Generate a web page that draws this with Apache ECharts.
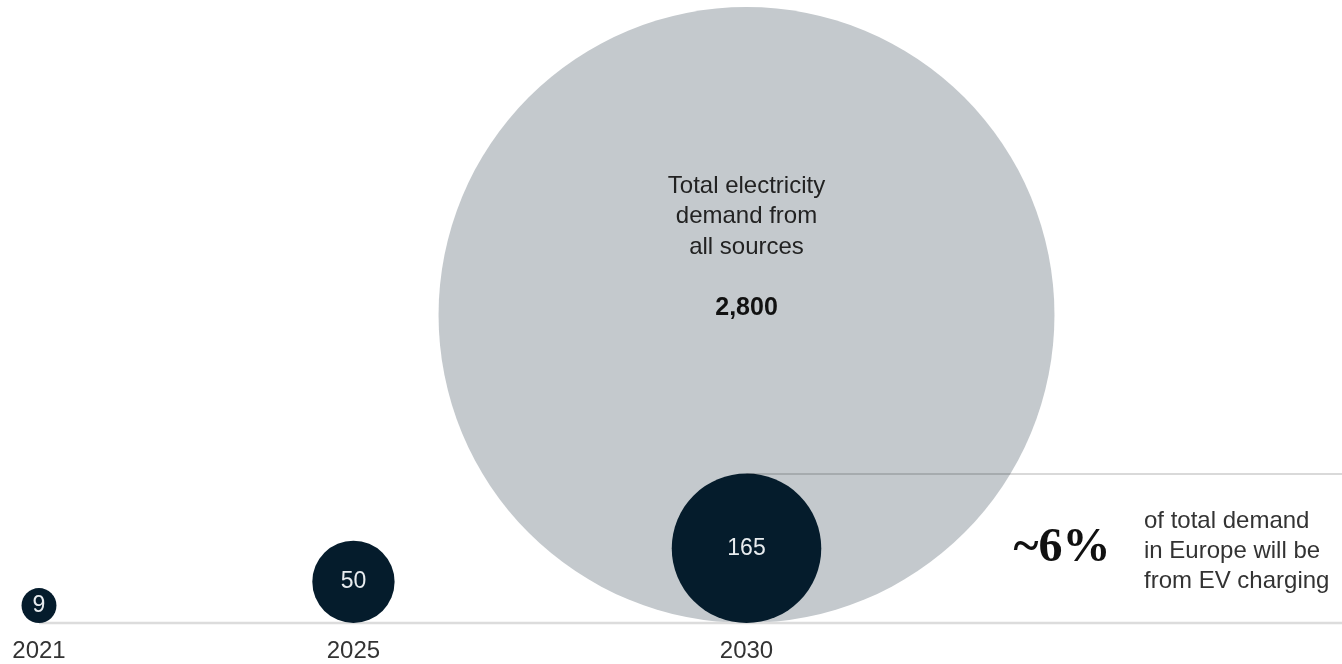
<!DOCTYPE html>
<html><head><meta charset="utf-8">
<script src="https://cdn.jsdelivr.net/npm/echarts@6/dist/echarts.min.js"></script>
<style>html,body{margin:0;padding:0;background:#fff}#c{width:1342px;height:664px}</style>
</head><body><div id="c"></div>
<script>
// ---- data ----
const years = [2021, 2025, 2030];
const yearLabels = ['2021', '2025', '2030'];
const evDemand = [9, 50, 165];           // EV charging demand
const totalYear = 2030;
const totalDemand = 2800;                 // total demand, all sources
const totalValueLabel = '2,800';
const totalLines = ['Total electricity', 'demand from', 'all sources'];
const noteLines = ['of total demand', 'in Europe will be', 'from EV charging'];

// ---- scales ----
const K = 5.82;                            // radius per sqrt(unit), area-proportional bubbles
const rad = v => K * Math.sqrt(v);
const X_MIN = 2020.504, X_MAX = 2037.575;
const PLOT_H = 623;
const FONT = '"Liberation Sans", Arial, sans-serif';
const DARK = '#051c2c';
const GREY = '#c4c9cd';

const share = Math.round(evDemand[evDemand.length - 1] / totalDemand * 100);

const chart = echarts.init(document.getElementById('c'), null, {renderer: 'canvas'});
chart.setOption({
  animation: false,
  backgroundColor: '#fff',
  grid: {left: 0, right: 0, top: 0, bottom: 664 - PLOT_H, outerBoundsMode: 'none'},
  xAxis: {
    type: 'value', min: X_MIN, max: X_MAX,
    axisLine: {show: false}, axisTick: {show: false}, splitLine: {show: false},
    axisLabel: {
      customValues: years,
      formatter: v => yearLabels[years.indexOf(v)] || '',
      color: '#333', fontSize: 24, fontFamily: FONT, margin: 16
    }
  },
  yAxis: {type: 'value', min: 0, max: PLOT_H, show: false},
  series: [
    {
      type: 'scatter', z: 1, silent: true,
      data: [[totalYear, rad(totalDemand), totalDemand]],
      symbolSize: v => 2 * rad(v[2]),
      itemStyle: {color: GREY, opacity: 1},
      label: {
        show: true, position: 'inside', offset: [0, -68],
        formatter: () => totalLines.map(s => '{a|' + s + '}').join('\n') + '\n{g| }\n{b|' + totalValueLabel + '}',
        rich: {
          a: {fontSize: 24, fontFamily: FONT, color: '#222', lineHeight: 30.5, align: 'center'},
          g: {fontSize: 10, lineHeight: 30.5},
          b: {fontSize: 25, fontFamily: FONT, fontWeight: 'bold', color: '#111', lineHeight: 30.5, align: 'center'}
        }
      }
    },
    {
      type: 'line', z: 2, silent: true, clip: false, symbol: 'none',
      data: [[years[0], 0], [X_MAX, 0]],
      lineStyle: {color: '#dcdcdc', width: 2.5}
    },
    {
      type: 'scatter', z: 3, silent: true,
      data: years.map((y, i) => [y, rad(evDemand[i]), evDemand[i]]),
      symbolSize: v => 2 * rad(v[2]),
      itemStyle: {color: DARK, opacity: 1},
      label: {
        show: true, position: 'inside',
        formatter: p => String(p.value[2]),
        color: '#e8ecef', fontSize: 23, fontFamily: FONT
      },
      markLine: {
        silent: true, symbol: 'none', label: {show: false},
        lineStyle: {color: 'rgba(0,0,0,0.2)', width: 1.5, type: 'solid'},
        data: [[
          {coord: [years[2], 2 * rad(evDemand[2])]},
          {coord: [X_MAX, 2 * rad(evDemand[2])]}
        ]]
      }
    }
  ],
  graphic: [
    {
      type: 'text', x: 1062, y: 549, silent: true,
      style: {text: '~' + share + '%', font: 'bold 48px "Liberation Serif", "Times New Roman", serif',
        fill: '#111', textAlign: 'center', textVerticalAlign: 'middle'}
    },
    {
      type: 'text', x: 1144, y: 551, silent: true,
      style: {text: noteLines.join('\n'), font: '24px ' + FONT, lineHeight: 30,
        fill: '#333', textAlign: 'left', textVerticalAlign: 'middle'}
    }
  ]
});
</script>
</body></html>
